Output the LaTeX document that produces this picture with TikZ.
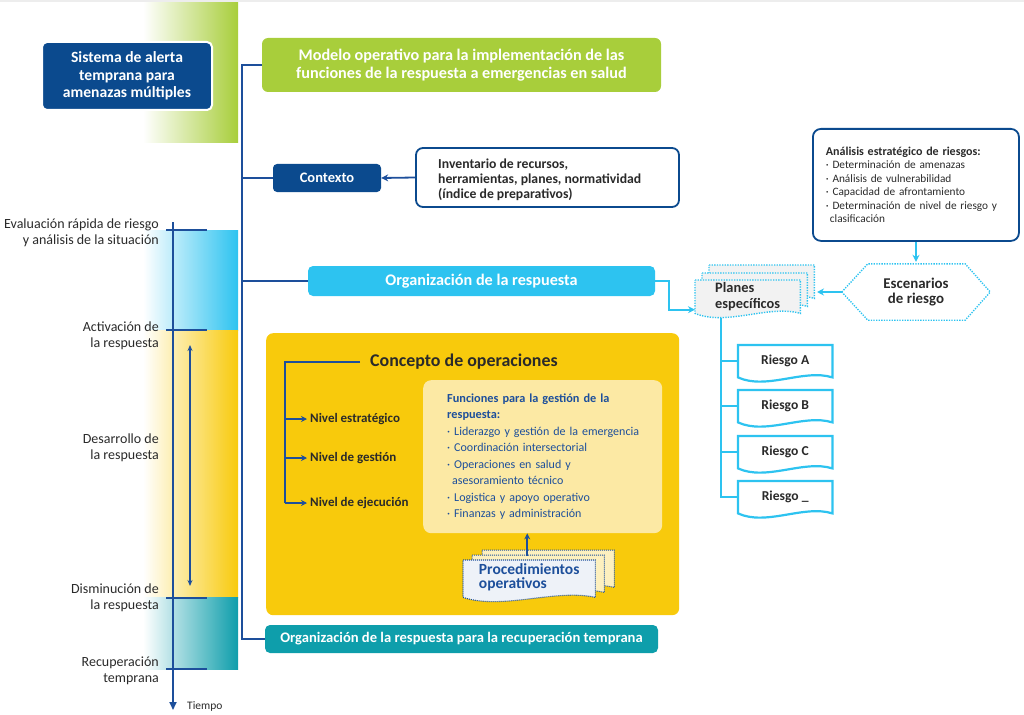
\documentclass[tikz,border=0pt]{standalone}
\usepackage{fontspec}
\setmainfont{Carlito}
\usetikzlibrary{arrows.meta,calc}
\pgfdeclarelayer{back}
\pgfdeclarelayer{bg}
\pgfsetlayers{back,bg,main}
\definecolor{dblue}{HTML}{0B4A8E}
\definecolor{lineblue}{HTML}{1D4F9B}
\definecolor{lgreen}{HTML}{A8CE3B}
\definecolor{lblue}{HTML}{2DC3F0}
\definecolor{myteal}{HTML}{0E9EAB}
\definecolor{myyellow}{HTML}{F8CA0C}
\definecolor{lyellow}{HTML}{FCE9A4}
\definecolor{txt}{HTML}{2A2A2A}
\definecolor{docgrey}{HTML}{F2F2F2}
\definecolor{procfill}{HTML}{EEF2F8}
\newcommand\docshape[4]{%
 \path[#1] ($(#2.north west)+(#3,#4)$) -- ($(#2.north east)+(#3,#4)$) -- ($(#2.south east)+(#3,#4)$)
 .. controls ($(#2.south west)!0.7!(#2.south east)+(#3,#4)+(0,-9)$) and ($(#2.south west)!0.3!(#2.south east)+(#3,#4)+(0,13)$) .. ($(#2.south west)+(#3,#4)$) -- cycle;}
\begin{document}
\begin{tikzpicture}[x=1pt,y=-1pt,
  dbline/.style={draw=lineblue, line width=1.8pt},
  lbline/.style={draw=lblue, line width=2pt},
  arr/.style={-{Stealth[length=7pt,width=7pt]}},
  box/.style={rounded corners=5pt, inner sep=0pt, align=center, font=\bfseries\fontsize{16.2}{18}\selectfont, text=white},
  lbl/.style={font=\fontsize{14}{16}\selectfont, text=txt, align=right, anchor=east, inner sep=0pt},
  rsk/.style={minimum width=94pt, minimum height=32pt, anchor=north west, inner sep=0pt, font=\bfseries\fontsize{13.6}{15}\selectfont, text=txt},
  nivel/.style={anchor=west, inner sep=0pt, font=\bfseries\fontsize{13}{14}\selectfont, text=txt},
  dots/.style={dash pattern=on 1.3pt off 1.3pt, line width=1.4pt},
  rdoc/.style={fill=white, draw=lblue, line width=2.2pt},
  pdoc/.style={fill=docgrey, draw=lblue, dots},
  prdocb/.style={fill=lyellow!70!white, draw=lineblue, dash pattern=on 1pt off 1pt, line width=1pt},
  prdoc/.style={fill=procfill, draw=lineblue, dash pattern=on 1pt off 1pt, line width=1.1pt},
]
\useasboundingbox (0,0) rectangle (1024,714);
\fill[black!7] (0,0) rectangle (1024,2.5);
% bands
\shade[left color=white, right color=lgreen] (143,3) rectangle (238,143);
\shade[left color=white, right color=lblue] (143,230) rectangle (238,330);
\shade[left color=white, right color=myyellow] (143,330) rectangle (238,597);
\shade[left color=white, right color=myteal] (143,597) rectangle (238,669);

% timeline
\coordinate (t0) at (173,222);
\coordinate (t1) at (173,710);
\draw[dbline, -{Triangle[length=8pt,width=7pt]}] (t0) -- (t1);
\foreach \yy in {230,330,598,669} \draw[dbline] (166,\yy) -- (207,\yy);
\coordinate (d0) at (190,345);
\coordinate (d1) at (190,586);
\draw[draw=lineblue, line width=1.4pt, {Stealth[length=6pt,width=5pt]}-{Stealth[length=6pt,width=5pt]}] (d0) -- (d1);

\node[lbl] (l1) at (159,233) {Evaluación rápida de riesgo\\y análisis de la situación};
\node[lbl] (l2) at (159,336) {Activación de\\la respuesta};
\node[lbl] (l3) at (159,447.5) {Desarrollo de\\la respuesta};
\node[lbl] (l4) at (159,597.5) {Disminución de\\la respuesta};
\node[lbl] (l5) at (159,671) {Recuperación\\temprana};
\node[anchor=west, inner sep=0pt, font=\fontsize{11.5}{12}\selectfont, text=txt] (tiempo) at (187,706) {Tiempo};

% Sistema
\node[box, fill=dblue, draw=white, line width=2pt, minimum width=170pt, minimum height=68pt, font=\bfseries\fontsize{15.6}{17.5}\selectfont] (sat) at (127,76) {Sistema de alerta\\temprana para\\amenazas múltiples};

% main boxes
\node[box, fill=lgreen, rounded corners=6pt, minimum width=399pt, minimum height=54pt] (modelo) at (461.5,65) {Modelo operativo para la implementación de las\\funciones de la respuesta a emergencias en salud};
\node[box, fill=dblue, rounded corners=4pt, minimum width=108pt, minimum height=28pt, font=\bfseries\fontsize{14.5}{16}\selectfont] (ctx) at (327,178) {Contexto};
\node[draw=dblue, line width=1.8pt, rounded corners=7pt, fill=white, minimum width=263pt, minimum height=59pt, inner sep=0pt] (inv) at (547.5,177.5) {};
\node[anchor=west, align=left, inner sep=0pt, font=\bfseries\fontsize{13.7}{15}\selectfont, text=txt] (invt) at (438,180) {Inventario de recursos,\\herramientas, planes, normatividad\\(índice de preparativos)};
\node[box, fill=lblue, minimum width=347pt, minimum height=30pt] (org) at (481.5,281) {Organización de la respuesta};
\node[box, fill=myteal, minimum width=393pt, minimum height=28pt, font=\bfseries\fontsize{14.6}{16}\selectfont] (recup) at (461.5,639) {Organización de la respuesta para la recuperación temprana};

% spine
\coordinate (spine) at (242,0);
\draw[dbline] (modelo.west) -- (modelo.west -| spine) -- (recup.west -| spine) -- (recup.west);
\draw[dbline] (ctx.west -| spine) -- (ctx.west);
\draw[dbline] (org.west -| spine) -- (org.west);
\draw[dbline, arr] (inv.west) -- (ctx.east);

% Concepto de operaciones
\begin{pgfonlayer}{back}
\node[fill=myyellow, rounded corners=7pt, minimum width=413pt, minimum height=282pt, anchor=north west, inner sep=0pt] (cop) at (266,333) {};
\end{pgfonlayer}
\node[anchor=west, inner xsep=10pt, inner ysep=0pt, font=\bfseries\fontsize{17.9}{20}\selectfont, text=txt] (ct) at (360,362) {Concepto de operaciones};
\node[nivel] (n1) at (310,419) {Nivel estratégico};
\node[nivel] (n2) at (310,458) {Nivel de gestión};
\node[nivel] (n3) at (310,503) {Nivel de ejecución};
\coordinate (cb) at (285,0);
\draw[dbline] (ct.west) -- (ct.west -| cb) -- (n3.west -| cb);
\foreach \n in {n1,n2,n3} \draw[dbline, -{Stealth[length=6pt,width=6pt]}] (\n.west -| cb) -- ([xshift=-3pt]\n.west);

\node[fill=lyellow, rounded corners=8pt, anchor=north west, text width=191pt, inner xsep=24pt, inner ysep=0pt, minimum height=153pt, align=left, font=\fontsize{12}{16.5}\selectfont, text=lineblue] (fun) at (423,380) {{\bfseries\fontsize{12.3}{16.5}\selectfont Funciones para la gestión de la\\respuesta:}\\
\mbox{· Liderazgo y gestión de la emergencia}\\
· Coordinación intersectorial\\
· Operaciones en salud y\\
\hspace*{5pt}asesoramiento técnico\\
· Logistica y apoyo operativo\\
· Finanzas y administración};

\node[anchor=north west, minimum width=132pt, minimum height=37pt, inner sep=0pt, align=left, font=\bfseries\fontsize{15.5}{16}\selectfont, text=lineblue] (proc) at (463,560) {\raisebox{-2pt}{\begin{tabular}{@{}l@{}}Procedimientos\\[-2pt]operativos\end{tabular}}};
\begin{pgfonlayer}{bg}
\docshape{prdocb}{proc}{19}{-10}
\docshape{prdocb}{proc}{9}{-5}
\docshape{prdoc}{proc}{0}{0}
\end{pgfonlayer}
\draw[dbline, -{Stealth[length=6pt,width=6pt]}] ([xshift=-2pt,yshift=4pt]proc.north) -- ([xshift=-2pt]proc.north |- fun.south);

% Analisis
\node[draw=dblue, line width=1.8pt, rounded corners=8pt, fill=white, anchor=north west, minimum width=206pt, minimum height=112pt, text width=180pt, inner xsep=13pt, inner ysep=0pt, align=left, font=\fontsize{11.3}{13.5}\selectfont, text=txt] (ana) at (812,128) {{\bfseries\fontsize{12}{13.5}\selectfont Análisis estratégico de riesgos:}\\
· Determinación de amenazas\\
· Análisis de vulnerabilidad\\
· Capacidad de afrontamiento\\
· Determinación de nivel de riesgo y\\
\hspace*{4pt}clasificación};

% Escenarios
\node[minimum width=148pt, minimum height=56pt, inner sep=0pt, align=center, font=\bfseries\fontsize{14.9}{15}\selectfont, text=txt] (esc) at (916,292) {Escenarios\\de riesgo};
\draw[draw=lblue, dots] (esc.west) -- ($(esc.north west)+(26,0)$) -- ($(esc.north east)+(-25,0)$) -- (esc.east) -- ($(esc.south east)+(-25,0)$) -- ($(esc.south west)+(26,0)$) -- cycle;
\draw[lbline, arr] (ana.south -| esc.north) -- ([yshift=2pt]esc.north);

% Planes especificos
\node[anchor=north west, minimum width=105pt, minimum height=33pt, inner sep=0pt, align=left, font=\bfseries\fontsize{14.4}{16}\selectfont, text=txt] (plf) at (695,280) {Planes\\específicos};
\begin{pgfonlayer}{bg}
\docshape{pdoc}{plf}{14}{-15}
\docshape{pdoc}{plf}{7}{-7}
\docshape{pdoc}{plf}{0}{0}
\end{pgfonlayer}
\coordinate (plb) at (817,292);
\draw[lbline, arr] (esc.west) -- (plb);
\draw[lbline, arr] (org.east) -- ++(14,0) |- ([yshift=-13pt]plf.west);

% Riesgos
\node[rsk] (r1) at (738,345) {Riesgo A};
\node[rsk] (r2) at (738,390) {Riesgo B};
\node[rsk] (r3) at (738,436) {Riesgo C};
\node[rsk] (r4) at (738,481) {Riesgo \_};
\begin{pgfonlayer}{bg}
\foreach \r in {r1,r2,r3,r4} {\docshape{rdoc}{\r}{0}{0}}
\end{pgfonlayer}
\coordinate (pv) at (721,318);
\draw[lbline] (pv) |- (r4.west);
\foreach \r in {r1,r2,r3} \draw[lbline] (pv |- \r.west) -- (\r.west);
\end{tikzpicture}
\end{document}
